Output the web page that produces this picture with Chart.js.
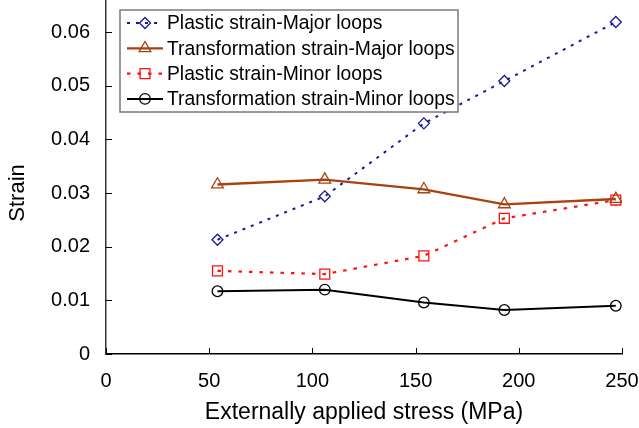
<!DOCTYPE html>
<html>
<head>
<meta charset="utf-8">
<script src="https://cdn.jsdelivr.net/npm/chart.js@4.4.1/dist/chart.umd.min.js"></script>
<style>
  html, body { margin: 0; padding: 0; background: #ffffff; }
  #wrap { width: 639px; height: 428px; }
</style>
</head>
<body>
<div id="wrap"><canvas id="c" width="639" height="428"></canvas></div>
<script>
// Applied stress levels (MPa) at which the loops were measured
const stress = [54, 106, 154, 193, 247];

// Strain per series
const plasticMajor = [0.0213, 0.0294, 0.0430, 0.0509, 0.0619];
const transMajor   = [0.0316, 0.0325, 0.0307, 0.0279, 0.0289];
const plasticMinor = [0.0155, 0.0149, 0.0183, 0.0253, 0.0287];
const transMinor   = [0.0117, 0.0120, 0.0096, 0.0082, 0.0090];

const seriesNames = [
  'Plastic strain-Major loops',
  'Transformation strain-Major loops',
  'Plastic strain-Minor loops',
  'Transformation strain-Minor loops'
];

const xTicks = [0, 50, 100, 150, 200, 250];
const yTicks = [0, 0.01, 0.02, 0.03, 0.04, 0.05, 0.06];
const yTitle = 'Strain';

const FONT = "'Liberation Sans', Arial, sans-serif";

function pts(ys) { return stress.map((x, i) => ({ x: x, y: ys[i] })); }

const datasets = [
  { label: seriesNames[0], data: pts(plasticMajor), borderColor: '#1a1a96', borderWidth: 2,
    borderDash: [3, 6], pointStyle: 'rectRot', pointRadius: 5.5, pointBorderWidth: 1.3 },
  { label: seriesNames[1], data: pts(transMajor), borderColor: '#a8420f', borderWidth: 2.3,
    borderDash: [], pointStyle: 'triangle', pointRadius: 6.8, pointBorderWidth: 1.3 },
  { label: seriesNames[2], data: pts(plasticMinor), borderColor: '#ff1010', borderWidth: 2.2,
    borderDash: [3.5, 7], pointStyle: 'rect', pointRadius: 7, pointBorderWidth: 1.3 },
  { label: seriesNames[3], data: pts(transMinor), borderColor: '#000000', borderWidth: 2,
    borderDash: [], pointStyle: 'circle', pointRadius: 5.3, pointBorderWidth: 1.3 }
].map(d => Object.assign(d, {
  fill: false, tension: 0, showLine: true,
  backgroundColor: 'rgba(0,0,0,0)',
  pointBackgroundColor: 'rgba(0,0,0,0)',
  pointBorderColor: d.borderColor
}));

// Tick marks pointing into the plot area
const inwardTicks = {
  id: 'inwardTicks',
  afterDraw(chart) {
    const ctx = chart.ctx, xs = chart.scales.x, ys = chart.scales.y;
    const a = chart.chartArea, len = 6;
    ctx.save();
    ctx.strokeStyle = '#000';
    ctx.lineWidth = 1;
    xTicks.forEach(v => {
      const px = Math.round(xs.getPixelForValue(v)) + 0.5;
      ctx.beginPath(); ctx.moveTo(px, a.bottom); ctx.lineTo(px, a.bottom - len); ctx.stroke();
    });
    yTicks.forEach(v => {
      const py = Math.round(ys.getPixelForValue(v)) + 0.5;
      ctx.beginPath(); ctx.moveTo(a.left, py); ctx.lineTo(a.left + len, py); ctx.stroke();
    });
    ctx.restore();
  }
};

// Vertical axis title, centred a little below the middle of the value axis
const yAxisTitle = {
  id: 'yAxisTitle',
  afterDraw(chart) {
    const ctx = chart.ctx, a = chart.chartArea;
    ctx.save();
    ctx.translate(18, a.top + (a.bottom - a.top) * 0.545);
    ctx.rotate(-Math.PI / 2);
    ctx.fillStyle = '#000';
    ctx.font = '22px ' + FONT;
    ctx.textAlign = 'center';
    ctx.textBaseline = 'middle';
    ctx.fillText(yTitle, 0, 0);
    ctx.restore();
  }
};

function drawMarker(ctx, style, x, y, r) {
  ctx.beginPath();
  if (style === 'rectRot') {
    ctx.moveTo(x - r, y); ctx.lineTo(x, y - r); ctx.lineTo(x + r, y); ctx.lineTo(x, y + r); ctx.closePath();
  } else if (style === 'triangle') {
    const w = r * Math.sqrt(3) / 2;
    ctx.moveTo(x, y - r); ctx.lineTo(x + w, y + r / 2); ctx.lineTo(x - w, y + r / 2); ctx.closePath();
  } else if (style === 'rect') {
    const s = r * Math.SQRT1_2;
    ctx.rect(x - s, y - s, 2 * s, 2 * s);
  } else {
    ctx.arc(x, y, r, 0, Math.PI * 2);
  }
  ctx.stroke();
}

// Boxed legend with line samples and markers, drawn inside the plot
const boxLegend = {
  id: 'boxLegend',
  afterDraw(chart) {
    const ctx = chart.ctx;
    const box = { x: 120, y: 10, w: 338, h: 102 };
    ctx.save();
    ctx.fillStyle = '#ffffff';
    ctx.fillRect(box.x, box.y, box.w, box.h);
    ctx.strokeStyle = '#7a7a7a';
    ctx.lineWidth = 1.5;
    ctx.strokeRect(box.x, box.y, box.w, box.h);
    chart.data.datasets.forEach((ds, i) => {
      const cy = box.y + 13 + i * 25.3;
      ctx.strokeStyle = ds.borderColor;
      ctx.lineWidth = ds.borderWidth;
      ctx.setLineDash(ds.borderDash || []);
      ctx.beginPath(); ctx.moveTo(127, cy); ctx.lineTo(163, cy); ctx.stroke();
      ctx.setLineDash([]);
      ctx.lineWidth = ds.pointBorderWidth;
      ctx.strokeStyle = ds.borderColor;
      drawMarker(ctx, ds.pointStyle, 145, cy, ds.pointRadius);
      ctx.fillStyle = '#000000';
      ctx.font = '19.3px ' + FONT;
      ctx.textBaseline = 'middle';
      ctx.textAlign = 'left';
      ctx.fillText(ds.label, 167, cy + 1);
    });
    ctx.restore();
  }
};

function noEdgePadding(s) {
  s.paddingTop = 0; s.paddingBottom = 0; s.paddingLeft = 0; s.paddingRight = 0;
}

new Chart(document.getElementById('c'), {
  type: 'scatter',
  data: { datasets: datasets },
  options: {
    responsive: false,
    animation: false,
    devicePixelRatio: 1,
    layout: { autoPadding: false, padding: { left: 0, top: 0, right: 17, bottom: 0 } },
    plugins: { legend: { display: false }, tooltip: { enabled: false } },
    scales: {
      x: {
        type: 'linear', min: 0, max: 250,
        afterBuildTicks: s => { s.ticks = xTicks.map(v => ({ value: v })); },
        afterFit: s => { s.height = 74; noEdgePadding(s); },
        grid: { drawOnChartArea: false, drawTicks: false },
        border: { color: '#000', width: 1.5 },
        ticks: { color: '#000', font: { family: FONT, size: 20 }, padding: 15, maxRotation: 0 },
        title: { display: true, text: 'Externally applied stress (MPa)', color: '#000',
                 font: { family: FONT, size: 23 }, padding: { top: 0, bottom: 2 } }
      },
      y: {
        type: 'linear', min: 0, max: 0.066,
        afterBuildTicks: s => { s.ticks = yTicks.map(v => ({ value: v })); },
        afterFit: s => { s.width = 106; noEdgePadding(s); },
        grid: { drawOnChartArea: false, drawTicks: false },
        border: { color: '#333', width: 1.5 },
        ticks: { color: '#000', font: { family: FONT, size: 20 }, padding: 16,
                 callback: v => v === 0 ? '0' : v.toFixed(2) }
      }
    }
  },
  plugins: [inwardTicks, yAxisTitle, boxLegend]
});
</script>
</body>
</html>
